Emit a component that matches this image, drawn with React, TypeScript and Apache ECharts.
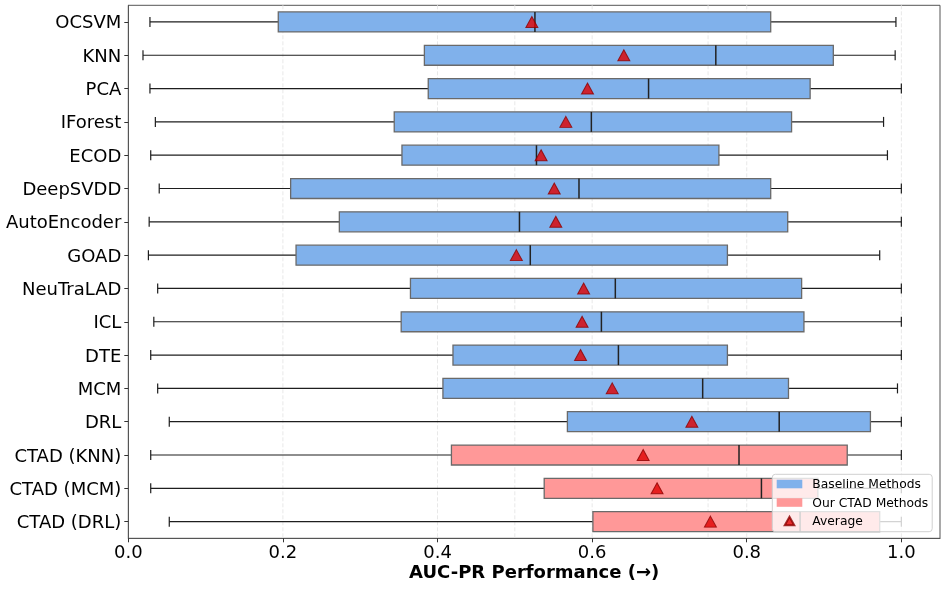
import React, { useEffect, useRef } from "react";
import * as echarts from "echarts";

const categories = [
  "OCSVM", "KNN", "PCA", "IForest", "ECOD", "DeepSVDD", "AutoEncoder", "GOAD",
  "NeuTraLAD", "ICL", "DTE", "MCM", "DRL", "CTAD (KNN)", "CTAD (MCM)", "CTAD (DRL)",
];
const whiskerLow = [0.028, 0.019, 0.028, 0.035, 0.029, 0.040, 0.027, 0.026, 0.038, 0.033, 0.029, 0.038, 0.053, 0.029, 0.029, 0.053];
const q1 = [0.194, 0.383, 0.388, 0.344, 0.354, 0.210, 0.273, 0.217, 0.365, 0.353, 0.420, 0.407, 0.568, 0.418, 0.538, 0.601];
const median = [0.526, 0.760, 0.673, 0.599, 0.528, 0.583, 0.506, 0.520, 0.630, 0.612, 0.634, 0.743, 0.842, 0.790, 0.819, 0.869];
const q3 = [0.831, 0.912, 0.882, 0.858, 0.764, 0.831, 0.853, 0.775, 0.871, 0.874, 0.775, 0.854, 0.960, 0.930, 0.892, 0.972];
const whiskerHigh = [0.993, 0.992, 1.0, 0.977, 0.982, 1.0, 1.0, 0.972, 1.0, 1.0, 1.0, 0.995, 1.0, 1.0, 1.0, 1.0];
const means = [0.522, 0.641, 0.594, 0.566, 0.534, 0.551, 0.553, 0.502, 0.589, 0.587, 0.585, 0.626, 0.729, 0.666, 0.684, 0.753];
const isCtad = [false, false, false, false, false, false, false, false, false, false, false, false, false, true, true, true];
const xTicks = [0, 0.2, 0.4, 0.6, 0.8, 1.0];
const refLines = [0.2, 0.4, 0.5, 0.6, 0.75, 0.8, 1.0];

const FONT = "DejaVu Sans";
const BLUE = "#80B1EB";
const PINK = "#FF9898";
const TRI = "path://M5,0 L10,9 L0,9 Z";

function boxRender(params: any, api: any) {
  const cat = api.value(0);
  const lo = api.coord([api.value(1), cat]);
  const b1 = api.coord([api.value(2), cat]);
  const md = api.coord([api.value(3), cat]);
  const b3 = api.coord([api.value(4), cat]);
  const hi = api.coord([api.value(5), cat]);
  const band = api.size([0, 1])[1];
  const hb = band * 0.3;
  const hc = band * 0.15;
  const y = lo[1];
  const fill = api.visual("color");
  const wStyle = { stroke: "#1e1e1e", lineWidth: 1.2 };
  return {
    type: "group",
    children: [
      { type: "line", shape: { x1: lo[0], y1: y, x2: b1[0], y2: y }, style: wStyle },
      { type: "line", shape: { x1: b3[0], y1: y, x2: hi[0], y2: y }, style: wStyle },
      { type: "line", shape: { x1: lo[0], y1: y - hc, x2: lo[0], y2: y + hc }, style: wStyle },
      { type: "line", shape: { x1: hi[0], y1: y - hc, x2: hi[0], y2: y + hc }, style: wStyle },
      {
        type: "rect",
        shape: { x: b1[0], y: y - hb, width: b3[0] - b1[0], height: 2 * hb },
        style: { fill, stroke: "#6a6a6a", lineWidth: 1.3 },
      },
      { type: "line", shape: { x1: md[0], y1: y - hb, x2: md[0], y2: y + hb }, style: { stroke: "#222", lineWidth: 1.5 } },
    ],
  };
}

export default function App() {
  const ref = useRef<HTMLDivElement>(null);
  useEffect(() => {
    if (!ref.current) return;
    const chart = echarts.init(ref.current, undefined, { renderer: "svg" });
    const rows = categories.map((_, i) => [i, whiskerLow[i], q1[i], median[i], q3[i], whiskerHigh[i]]);
    const baseRows = rows.filter((_, i) => !isCtad[i]);
    const ctadRows = rows.filter((_, i) => isCtad[i]);
    chart.setOption({
      animation: false,
      textStyle: { fontFamily: FONT },
      grid: {
        left: 128.3, right: 6, top: 5.3, bottom: 50.7,
        show: true, borderColor: "#555", borderWidth: 1, backgroundColor: "transparent",
      },
      xAxis: {
        type: "value", min: 0, max: 1.05, interval: 0.2,
        axisLine: { show: true, lineStyle: { color: "#555", width: 1 } },
        axisTick: { show: true, length: 4, lineStyle: { color: "#333" }, customValues: xTicks },
        axisLabel: {
          fontSize: 18, lineHeight: 16, color: "#000", margin: 5.5, fontFamily: FONT,
          customValues: xTicks,
          formatter: (v: number) => v.toFixed(1),
        },
        splitLine: { show: false },
        name: "AUC-PR Performance (→)",
        nameLocation: "middle",
        nameGap: 25,
        nameMoveOverlap: false,
        nameTextStyle: { fontSize: 18, lineHeight: 16, fontWeight: "bold", color: "#000", fontFamily: FONT },
      },
      yAxis: {
        type: "category", data: categories, inverse: true,
        axisLine: { show: true, lineStyle: { color: "#555", width: 1 } },
        axisTick: { show: true, alignWithLabel: true, length: 4, lineStyle: { color: "#333" } },
        axisLabel: { fontSize: 18, color: "#000", margin: 7, fontFamily: FONT },
        splitLine: { show: false },
      },
      legend: {
        orient: "vertical",
        left: 772.3, top: 474.3,
        padding: [2.7, 4, 3.7, 4.4],
        itemWidth: 25.6, itemHeight: 8.6, itemGap: 4.5,
        backgroundColor: "rgba(255,255,255,0.8)",
        borderColor: "#d0d0d0", borderWidth: 1, borderRadius: 3,
        textStyle: { fontSize: 12.3, color: "#000", lineHeight: 14, padding: [0, 0, 0, 5], fontFamily: FONT },
        symbolKeepAspect: true,
        selectedMode: false,
        data: [
          { name: "Baseline Methods", icon: "rect" },
          { name: "Our CTAD Methods", icon: "rect" },
          { name: "Average", icon: TRI },
        ],
      },
      series: [
        {
          type: "custom", name: "refs", z: 1, silent: true,
          data: refLines.map((v) => [v]),
          encode: { x: 0 },
          renderItem: (params: any, api: any) => {
            const x = api.coord([api.value(0), 0])[0];
            const cs = params.coordSys;
            return {
              type: "line",
              shape: { x1: x, y1: cs.y, x2: x, y2: cs.y + cs.height },
              style: { stroke: "#e8e8e8", lineWidth: 1, lineDash: [4, 2] },
            };
          },
        },
        {
          type: "custom", name: "Baseline Methods", z: 2,
          itemStyle: { color: BLUE },
          data: baseRows, encode: { y: 0, x: [1, 2, 3, 4, 5] },
          renderItem: boxRender,
        },
        {
          type: "custom", name: "Our CTAD Methods", z: 2,
          itemStyle: { color: PINK },
          data: ctadRows, encode: { y: 0, x: [1, 2, 3, 4, 5] },
          renderItem: boxRender,
        },
        {
          type: "scatter", name: "Average", z: 3,
          symbol: TRI, symbolSize: [12, 11],
          itemStyle: { color: "#E00000", borderColor: "#8B0000", borderWidth: 1 },
          data: means.map((m, i) => [m, i]),
          encode: { x: 0, y: 1 },
        },
      ],
    });
    return () => chart.dispose();
  }, []);
  return <div ref={ref} style={{ position: "fixed", left: 0, top: 0, width: 946, height: 589 }} />;
}
